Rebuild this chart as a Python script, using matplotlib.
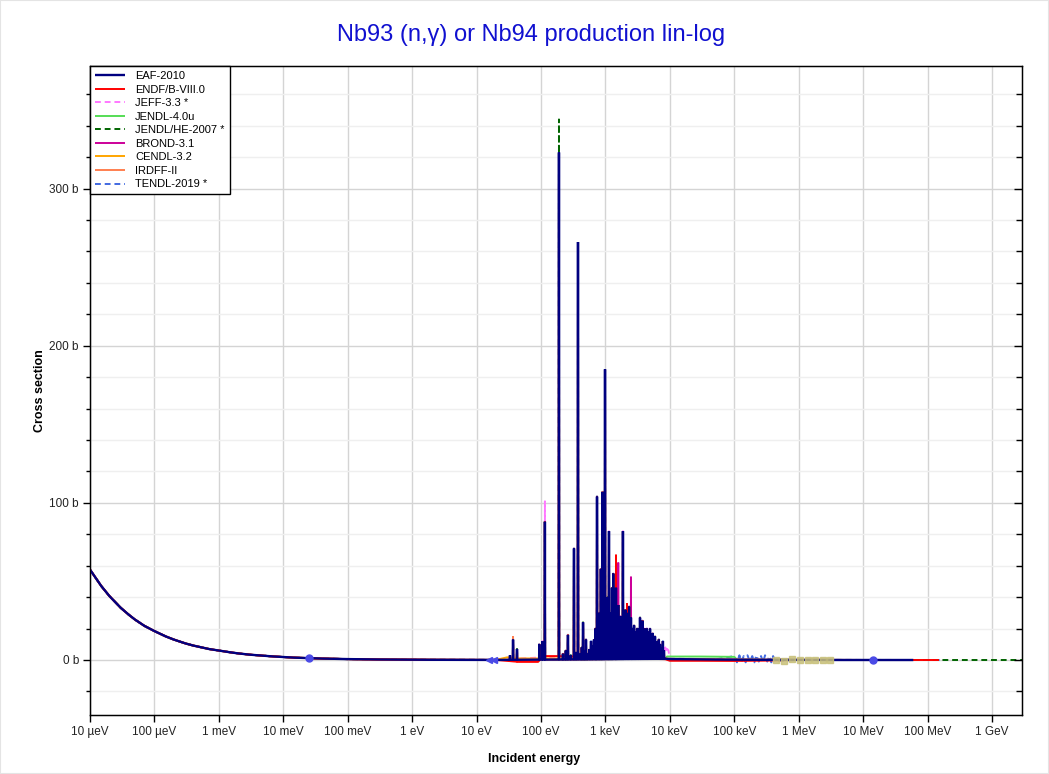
import numpy as np
import matplotlib.pyplot as plt
from matplotlib.ticker import FixedLocator, MultipleLocator, FuncFormatter, NullLocator
from matplotlib.patches import Rectangle

plt.rcParams['font.family'] = ['Liberation Sans', 'DejaVu Sans']

# Thermal / 1/v part shared by all libraries (eV, barn)
thermal_e = [1e-5, 1.5e-5, 2e-5, 3e-5, 4e-5, 5e-5, 7e-5, 1e-4, 1.5e-4, 2e-4, 3e-4,
             4e-4, 5e-4, 7e-4, 1e-3, 1.5e-3, 2e-3, 3e-3, 5e-3, 7e-3, 1e-2, 1.5e-2,
             2.53e-2, 4e-2, 6e-2, 0.1, 0.15, 0.2, 0.3, 0.5, 0.7, 1, 2, 5, 10, 20]
thermal_xs = [57.5, 47.0, 40.7, 33.2, 28.8, 25.7, 21.7, 18.4, 15.0, 13.0, 10.6,
              9.2, 8.3, 7.0, 6.0, 4.9, 4.2, 3.4, 2.7, 2.25, 1.9, 1.5,
              1.15, 0.91, 0.74, 0.58, 0.47, 0.41, 0.33, 0.26, 0.22, 0.18, 0.13, 0.08, 0.06, 0.045]

# Resonances (EAF-2010 peak heights)
res_e = [33, 36.8, 42.4, 94, 105, 115, 190, 219, 243, 262, 290, 325, 350, 375,
         405, 430, 449, 470, 499, 530, 560, 597, 620, 664, 700, 740, 800, 850,
         905, 985, 1040, 1080, 1135, 1190, 1230, 1264, 1320, 1360, 1400, 1458,
         1520, 1580, 1620, 1660, 1700, 1790, 1870, 1950, 2000, 2050, 2100, 2160,
         2240, 2330, 2420, 2490, 2600, 2700, 2780, 2880, 3000, 3100, 3200, 3330,
         3440, 3600, 3750, 3900, 4050, 4200, 4400, 4600, 4800, 4920, 5150, 5400,
         5650, 5880, 6150, 6450, 6750, 7030, 7400, 7800, 8100]
eaf_peak = [3, 13, 7, 10, 12, 88, 323, 4, 6, 16, 3, 71, 5, 266,
            4, 8, 24, 6, 13, 4, 7, 12, 9, 13, 20, 104, 30, 58,
            107, 185, 25, 40, 82, 30, 18, 46, 55, 22, 30, 46,
            25, 35, 20, 14, 28, 15, 82, 22, 12, 32, 16, 30,
            18, 34, 14, 27, 20, 12, 22, 18, 12, 20, 10, 20,
            27, 14, 25, 12, 20, 15, 20, 10, 18, 20, 12, 17,
            10, 15, 12, 9, 13, 10, 8, 12, 6]

# Library-specific peak heights that differ from EAF
endf_fix_e = [36.8, 190, 740, 1458, 2160]
endf_fix_peak = [12, 280, 104, 67, 36]
jeff_fix_e = [115]
jeff_fix_peak = [101]
jendl_he_fix_e = [190]
jendl_he_fix_peak = [344]
brond_fix_e = [1580, 2490]
brond_fix_peak = [62, 53]
irdff_fix_e = [36.8]
irdff_fix_peak = [15]

# Smooth parts above the resolved region (and a few low-energy bits)
eaf_tail_e = [8.5e3, 1e4, 2e4, 5e4, 1e5, 2e5, 5e5, 1e6, 2e6, 5e6, 1e7, 2e7, 6e7]
eaf_tail_xs = [0.8, 0.6, 0.45, 0.3, 0.2, 0.13, 0.08, 0.05, 0.03, 0.01, 0.004, 0.002, 0.001]
endf_tail_e = [45, 60, 90, 110, 150, 180, 8.5e3, 1e4, 3e4, 1e5, 3e5, 1e6, 3e6, 1e7, 3e7, 1.5e8]
endf_tail_xs = [-1.2, -1.2, -1.2, 2.5, 2.5, 2.5, 0.5, -0.5, -0.5, -0.6, -0.4, 0.05, 0.02, 0.005, 0.002, 0.001]
jeff_tail_e = [8.2e3, 8.5e3, 8.8e3, 9.1e3, 9.5e3, 1e4, 1e5, 1e6, 2e7]
jeff_tail_xs = [6, 8, 5, 7, 6, 1, 0.2, 0.05, 0.002]
jendl4_tail_e = [8.5e3, 9e3, 3e4, 1e5, 1.1e5, 1e6, 2e7]
jendl4_tail_xs = [0.8, 2.2, 2.2, 2.0, 0.2, 0.05, 0.002]
jendl_he_tail_e = [8.5e3, 1e4, 1e5, 1e6, 1e7, 1e8, 1e9, 3e9]
jendl_he_tail_xs = [0.8, 0.6, 0.2, 0.05, 0.004, 0.001, 0.0005, 0.0003]
brond_tail_e = [8.5e3, 1e4, 1e5, 1e6, 2e7]
brond_tail_xs = [0.8, 0.6, 0.2, 0.05, 0.002]
cendl_tail_e = [25, 30, 40, 8.5e3, 1e4, 1e5, 1e6, 2e7]
cendl_tail_xs = [1.0, 1.7, 1.0, 0.8, 0.6, 0.2, 0.05, 0.002]
irdff_tail_e = [8.5e3, 1e4, 1e5, 1e6, 1e7, 6e7]
irdff_tail_xs = [0.8, 0.6, 0.2, 0.05, 0.004, 0.001]
tendl_tail_e = [8.5e3, 1e4, 5e4, 1e5, 1.1e5, 1.2e5, 1.3e5, 1.4e5, 1.5e5, 1.6e5, 1.75e5,
                1.9e5, 2.05e5, 2.2e5, 2.4e5, 2.6e5, 2.8e5, 3e5, 3.25e5, 3.5e5, 3.75e5,
                4e5, 4.3e5, 1e6, 1e7, 2e8]
tendl_tail_xs = [0.8, 0.5, 0.3, 2.5, -1.5, 3, -1, 2.5, -1.5, 3, -1,
                 2.5, -1.5, 3, -1, 2.5, -1.5, 3, -1, 2.5, -1.5,
                 2.5, -0.5, 0.05, 0.004, 0.001]

# Measured-style markers
dot_e = [0.0253, 1.4e7]
dot_xs = [1.15, 0.0]
arrow_e = [15.6, 18.4]
arrow_xs = [0.0, 0.0]
square_e = [4.5e5, 6e5, 8e5, 1.05e6, 1.4e6, 1.8e6, 2.4e6, 3.1e6]
square_xs = [0.0, -0.5, 0.5, 0.0, -0.3, 0.3, 0.0, -0.2]


def build_series(tail_e, tail_xs, fix_e=(), fix_peak=(), half_width=0.006):
    curve_e = np.array(thermal_e + tail_e)
    curve_xs = np.array(thermal_xs + tail_xs)
    order = np.argsort(curve_e)
    curve_e, curve_xs = curve_e[order], curve_xs[order]
    peaks = dict(zip(res_e, eaf_peak))
    peaks.update(dict(zip(fix_e, fix_peak)))
    e = list(curve_e)
    xs = list(curve_xs)
    for r in res_e:
        for f in (1 - half_width, 1 + half_width):
            e.append(r * f)
            xs.append(np.interp(np.log10(r * f), np.log10(curve_e), curve_xs))
        e.append(r)
        xs.append(peaks[r])
    e = np.array(e)
    xs = np.array(xs)
    order = np.argsort(e)
    return e[order], xs[order]


libraries = [
    ('EAF-2010', '#000080', '-', 1.7, 10, eaf_tail_e, eaf_tail_xs, [], []),
    ('ENDF/B-VIII.0', '#ff0000', '-', 1.4, 9, endf_tail_e, endf_tail_xs, endf_fix_e, endf_fix_peak),
    ('JEFF-3.3 *', '#ff77ff', '--', 1.4, 3, jeff_tail_e, jeff_tail_xs, jeff_fix_e, jeff_fix_peak),
    ('JENDL-4.0u', '#55dd55', '-', 1.4, 4, jendl4_tail_e, jendl4_tail_xs, [], []),
    ('JENDL/HE-2007 *', '#006400', '--', 1.4, 2, jendl_he_tail_e, jendl_he_tail_xs, jendl_he_fix_e, jendl_he_fix_peak),
    ('BROND-3.1', '#cc0099', '-', 1.4, 5, brond_tail_e, brond_tail_xs, brond_fix_e, brond_fix_peak),
    ('CENDL-3.2', '#ffa500', '-', 1.4, 6, cendl_tail_e, cendl_tail_xs, [], []),
    ('IRDFF-II', '#ff7f50', '-', 1.4, 7, irdff_tail_e, irdff_tail_xs, irdff_fix_e, irdff_fix_peak),
    ('TENDL-2019 *', '#4169e1', '--', 1.4, 1, tendl_tail_e, tendl_tail_xs, [], []),
]

fig = plt.figure(figsize=(10.49, 7.74), dpi=100)
ax = fig.add_axes([90 / 1049, 1 - 715 / 774, 932 / 1049, 649 / 774])

for name, color, ls, lw, z, te, txs, fe, fp in libraries:
    e, xs = build_series(te, txs, fe, fp)
    if ls == '--':
        ax.plot(e, xs, color=color, lw=lw, dashes=(3, 2), label=name, zorder=z)
    else:
        ax.plot(e, xs, color=color, lw=lw, label=name, zorder=z,
                solid_joinstyle='bevel', solid_capstyle='butt')

ax.plot(square_e, square_xs, 's', color='#c8c07a', ms=4.5, alpha=0.85, zorder=11)
ax.plot(dot_e, dot_xs, 'o', color='#4a4ae6', ms=5, zorder=12)
ax.plot(arrow_e, arrow_xs, '<', color='#4a4ae6', ms=4, zorder=12)

ax.set_xscale('log')
ax.set_xlim(1e-5, 2.92e9)
ax.set_ylim(-35, 378)

# X ticks
xtick_pos = [1e-5, 1e-4, 1e-3, 1e-2, 1e-1, 1, 10, 100, 1e3, 1e4, 1e5, 1e6, 1e7, 1e8, 1e9]
xtick_labels = ['10 µeV', '100 µeV', '1 meV', '10 meV', '100 meV', '1 eV', '10 eV', '100 eV',
                '1 keV', '10 keV', '100 keV', '1 MeV', '10 MeV', '100 MeV', '1 GeV']
ax.xaxis.set_major_locator(FixedLocator(xtick_pos))
ax.xaxis.set_minor_locator(NullLocator())
ax.set_xticklabels(xtick_labels)

# Y ticks
ax.yaxis.set_major_locator(MultipleLocator(100))
ax.yaxis.set_minor_locator(MultipleLocator(20))
ax.yaxis.set_major_formatter(FuncFormatter(lambda v, p: '%d b' % v))
ax.tick_params(axis='both', which='major', labelsize=8.5, labelcolor='#222222', length=5, width=1, pad=3)
ax.tick_params(axis='y', which='minor', length=3, width=1)
ax.tick_params(axis='y', which='both', direction='out', right=False)

ax.grid(True, which='major', color='#d4d4d4', lw=1)
ax.grid(True, which='minor', axis='y', color='#efefef', lw=1)
ax.set_axisbelow(True)

# right-side ticks point inward, drawn on a twin axes above the grid
ax_r = ax.twinx()
ax_r.set_ylim(ax.get_ylim())
ax_r.yaxis.set_major_locator(MultipleLocator(100))
ax_r.yaxis.set_minor_locator(MultipleLocator(20))
ax_r.tick_params(axis='y', which='major', direction='in', length=6, width=1, labelright=False)
ax_r.tick_params(axis='y', which='minor', direction='in', length=4, width=1)
ax_r.grid(False)
ax_r.set_zorder(ax.get_zorder() + 1)
ax_r.patch.set_visible(False)

for s in ax.spines.values():
    s.set_linewidth(1)
    s.set_color('black')

ax.set_xlabel('Incident energy', fontsize=9, fontweight='bold')
ax.xaxis.set_label_coords(0.476, -0.058)
ax.set_ylabel('Cross section', fontsize=9, fontweight='bold')
ax.yaxis.set_label_coords(-0.047, 0.5)

fig.text(0.506, 0.955, 'Nb93 (n,\u03b3) or Nb94 production lin-log', color='#1010d0',
         fontsize=17, ha='center', va='center')

leg = ax.legend(loc='upper left', bbox_to_anchor=(0, 1), borderaxespad=0, fontsize=8,
                handlelength=2.7, labelspacing=0.32, borderpad=0.45, handletextpad=0.9,
                fancybox=False, framealpha=1, edgecolor='black')
leg.get_frame().set_linewidth(1)
leg.set_zorder(20)

fig.add_artist(Rectangle((0, 0), 1, 1, transform=fig.transFigure, fill=False,
                         edgecolor='#e4e4e4', lw=1.5))

fig.savefig('out.png', dpi=100)
